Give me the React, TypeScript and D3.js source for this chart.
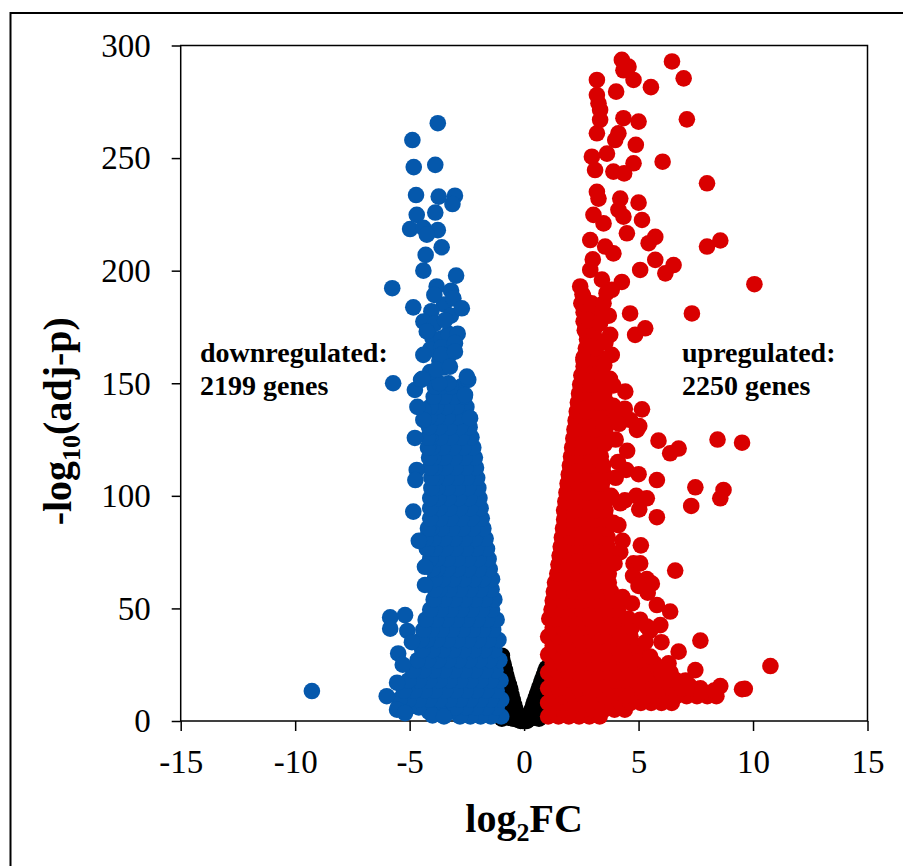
import { useEffect, useRef } from "react";
import * as d3 from "d3";

const xTicks = [-15, -10, -5, 0, 5, 10, 15];
const yTicks = [0, 50, 100, 150, 200, 250, 300];

// not significant genes (|log2FC| < 1), they form the black V at the bottom
const nsPoints: [number, number][] = [
  [-0.97, 29], [-0.95, 27], [-0.89, 25], [-0.83, 22.6], [-0.78, 20.3], [-0.72, 18],
  [-0.66, 16], [-0.6, 14], [-0.55, 11.5], [-0.49, 9.3], [-0.43, 7], [-0.37, 5],
  [-0.31, 2.7], [-0.26, 0.5],
  [-0.97, 21], [-0.97, 14], [-0.97, 7], [-0.97, 1], [-0.87, 17], [-0.87, 10],
  [-0.87, 3], [-0.77, 12], [-0.77, 5], [-0.68, 8], [-0.68, 1.5], [-0.58, 4],
  [-0.47, 1], [-0.15, 0], [-0.05, 0], [0.05, 0], [0.12, 0],
  [0.17, 0.5], [0.23, 2.2], [0.29, 4], [0.34, 5.2], [0.4, 7], [0.45, 8.5], [0.5, 10],
  [0.56, 11.8], [0.62, 13.5], [0.68, 15.2], [0.74, 17], [0.8, 18.6], [0.86, 20.3],
  [0.92, 22], [0.98, 23.5],
  [0.45, 1.5], [0.55, 4.5], [0.65, 7.5], [0.75, 10.5], [0.85, 13.5], [0.95, 16.5],
  [0.65, 1], [0.8, 4], [0.9, 8], [0.97, 11], [0.97, 3],
];

// dense part of the downregulated cloud: [-log10(adj-p), log2FC values]
const downRows: [number, number[]][] = [
  [2, [-1.0, -1.45, -1.9, -2.35, -2.8]],
  [4, [-3.25, -3.7, -4.15]],
  [6, [-1.2, -1.65, -2.1, -2.55, -3.0, -4.6, -5.05, -5.5]],
  [9.5, [-1.0, -1.45, -1.9, -2.35, -2.8, -3.25, -3.7, -4.15, -4.6, -5.05, -5.45]],
  [13.5, [-1.2, -1.65, -2.1, -2.55, -3.0, -3.45, -3.9, -4.35, -4.8, -5.25]],
  [18, [-1.03, -1.45, -1.9, -2.35, -2.8, -3.25, -3.7, -4.15, -4.6, -5.05]],
  [22.5, [-1.25, -1.7, -2.15, -2.6, -3.05, -3.5, -3.95, -4.4, -4.85]],
  [27, [-1.08, -1.5, -1.95, -2.4, -2.85, -3.3, -3.75, -4.2, -4.65]],
  [31.5, [-1.3, -1.75, -2.2, -2.65, -3.1, -3.55, -4.0, -4.45]],
  [36, [-1.12, -1.55, -2.0, -2.45, -2.9, -3.35, -3.8, -4.25, -4.5]],
  [40.5, [-1.35, -1.8, -2.25, -2.7, -3.15, -3.6, -4.05, -4.4]],
  [45, [-1.2, -1.62, -2.05, -2.5, -2.95, -3.4, -3.85, -4.3]],
  [49.5, [-1.4, -1.85, -2.3, -2.75, -3.2, -3.65, -4.1]],
  [54, [-1.3, -1.72, -2.15, -2.6, -3.05, -3.5, -3.95]],
  [58.5, [-1.42, -1.9, -2.35, -2.8, -3.25, -3.7, -3.9]],
  [63, [-1.4, -1.8, -2.2, -2.65, -3.1, -3.55, -3.9]],
  [67.5, [-1.5, -1.98, -2.45, -2.9, -3.35, -3.8, -4.0]],
  [72, [-1.55, -2.0, -2.45, -2.9, -3.35, -3.8, -4.1]],
  [76.5, [-1.62, -2.1, -2.55, -3.0, -3.45, -3.9, -4.25]],
  [81, [-1.68, -2.15, -2.6, -3.05, -3.5, -3.95, -4.3]],
  [85.5, [-1.78, -2.25, -2.7, -3.15, -3.6, -4.05, -4.2]],
  [90, [-1.85, -2.3, -2.75, -3.2, -3.65, -4.1]],
  [94.5, [-1.9, -2.35, -2.8, -3.25, -3.7, -4.1]],
  [99, [-1.95, -2.4, -2.85, -3.3, -3.75, -4.1]],
  [103.5, [-2.0, -2.45, -2.9, -3.35, -3.8, -4.05]],
  [108, [-2.05, -2.5, -2.95, -3.4, -3.85, -4.05]],
  [112.5, [-2.1, -2.55, -3.0, -3.45, -3.9, -4.1]],
  [117, [-2.15, -2.6, -3.05, -3.5, -3.95, -4.15]],
  [121.5, [-2.22, -2.65, -3.1, -3.55, -4.0, -4.2]],
  [126, [-2.3, -2.75, -3.2, -3.65, -4.1, -4.2]],
  [130.5, [-2.38, -2.8, -3.25, -3.7, -4.15]],
  [135, [-2.45, -2.9, -3.35, -3.8, -4.15]],
  [139.5, [-2.52, -2.95, -3.4, -3.85, -4.1]],
  [144, [-2.6, -3.05, -3.5, -3.95]],
  [148.5, [-2.75, -3.2, -3.65, -3.9]],
];

// single downregulated genes outside the dense part: [log2FC, -log10(adj-p)]
const downScatter: [number, number][] = [
  [-9.27, 13.3], [-6.0, 11], [-5.55, 17], [-5.55, 5], [-5.5, 30], [-5.3, 25],
  [-5.85, 46], [-5.2, 47], [-5.85, 41], [-5.1, 40], [-4.9, 35], [-4.33, 68.5],
  [-4.33, 60.4], [-4.6, 80], [-4.84, 93], [-4.69, 111.5], [-4.75, 107], [-4.77, 125.7],
  [-4.4, 138], [-4.4, 133.7], [-4.66, 139.5], [-4.77, 147], [-5.72, 150], [-4.5, 151.5],
  [-2.44, 151.5], [-2.36, 134.5], [-2.58, 144.8], [-5.2, 3.5], [-4.0, 2.5], [-3.5, 2],
  [-4.0, 170], [-3.6, 170], [-3.3, 172], [-3.7, 160], [-4.1, 165], [-3.5, 185],
  [-3.6, 166], [-3.3, 150], [-3.7, 150], [-4.1, 155], [-3.5, 157], [-3.2, 180],
  [-4.05, 182], [-3.3, 162],
  [-3.77, 265.5], [-4.88, 258], [-4.82, 246], [-3.88, 247], [-4.72, 233.6],
  [-3.73, 232.9], [-3.02, 233.3], [-3.13, 229.6], [-4.69, 224.8], [-3.88, 225.8],
  [-4.98, 218.5], [-4.4, 219], [-3.77, 218], [-4.25, 216], [-3.6, 210.4], [-4.3, 207],
  [-4.4, 200], [-2.97, 197.8], [-5.76, 192.2], [-3.82, 193], [-3.19, 191.1],
  [-3.92, 189.2], [-3.09, 187.7], [-4.84, 183.7], [-2.72, 183.3], [-4.4, 177.4],
  [-3.89, 176.6], [-3.45, 178], [-2.9, 172], [-4.25, 173], [-3.02, 167.8],
  [-4.4, 162.6], [-3.6, 162.6], [-3.02, 164], [-3.82, 156], [-3.24, 157.4],
  [-2.5, 153], [-4.45, 152],
];

// dense part of the upregulated cloud: [-log10(adj-p), log2FC values]
const upRows: [number, number[]][] = [
  [2, [1.05, 1.5, 1.95, 2.4, 2.85, 3.3]],
  [5, [1.25, 1.7, 2.15, 2.6, 3.05, 3.5, 3.95, 4.4]],
  [8, [1.05, 1.5, 1.95, 2.4, 2.85, 3.3, 3.75, 4.2, 4.65, 5.1, 5.55, 6.0, 6.45]],
  [11, [1.25, 1.7, 2.15, 2.6, 3.05, 3.5, 3.95, 4.4, 4.85, 5.3, 5.75, 6.2, 6.65, 7.1, 7.55, 8.0, 8.4]],
  [14.5, [1.05, 1.5, 1.95, 2.4, 2.85, 3.3, 3.75, 4.2, 4.65, 5.1, 5.55, 6.0, 6.45, 6.9, 7.35, 7.7]],
  [18, [1.25, 1.7, 2.15, 2.6, 3.05, 3.5, 3.95, 4.4, 4.85, 5.3, 5.75, 6.2, 6.65, 7.05]],
  [21.5, [1.05, 1.5, 1.95, 2.4, 2.85, 3.3, 3.75, 4.2, 4.65, 5.1, 5.55, 6.0, 6.4]],
  [25.5, [1.25, 1.7, 2.15, 2.6, 3.05, 3.5, 3.95, 4.4, 4.85, 5.3, 5.7]],
  [29.5, [1.05, 1.5, 1.95, 2.4, 2.85, 3.3, 3.75, 4.2, 4.65, 5.1]],
  [33.5, [1.25, 1.7, 2.15, 2.6, 3.05, 3.5, 3.95, 4.4, 4.85]],
  [37.5, [1.05, 1.5, 1.95, 2.4, 2.85, 3.3, 3.75, 4.2, 4.65]],
  [41.5, [1.25, 1.7, 2.15, 2.6, 3.05, 3.5, 3.95, 4.4, 4.7]],
  [45.5, [1.1, 1.55, 2.0, 2.45, 2.9, 3.35, 3.8, 4.25, 4.55]],
  [49.5, [1.2, 1.65, 2.1, 2.55, 3.0, 3.45, 3.9, 4.1]],
  [53.5, [1.25, 1.7, 2.15, 2.6, 3.05, 3.5, 3.9]],
  [57.5, [1.3, 1.75, 2.2, 2.65, 3.1, 3.55, 3.8]],
  [61.5, [1.35, 1.8, 2.25, 2.7, 3.15, 3.6, 3.7]],
  [65.5, [1.45, 1.9, 2.35, 2.8, 3.25, 3.7]],
  [69.5, [1.5, 1.95, 2.4, 2.85, 3.3, 3.7]],
  [73.5, [1.55, 2.0, 2.45, 2.9, 3.35, 3.65]],
  [77.5, [1.6, 2.05, 2.5, 2.95, 3.4, 3.65]],
  [81.5, [1.65, 2.1, 2.55, 3.0, 3.45, 3.65]],
  [85.5, [1.7, 2.15, 2.6, 3.05, 3.5, 3.6]],
  [89.5, [1.75, 2.2, 2.65, 3.1, 3.55, 3.6]],
  [93.5, [1.75, 2.2, 2.65, 3.1, 3.55]],
  [97.5, [1.8, 2.25, 2.7, 3.15, 3.55]],
  [101.5, [1.85, 2.3, 2.75, 3.2, 3.45]],
  [105.5, [1.9, 2.35, 2.8, 3.25, 3.4]],
  [109.5, [1.95, 2.4, 2.85, 3.3, 3.5]],
  [113.5, [2.0, 2.45, 2.9, 3.35, 3.45]],
  [117.5, [2.05, 2.5, 2.95, 3.35]],
  [121.5, [2.1, 2.55, 3.0, 3.3]],
  [125.5, [2.15, 2.6, 3.05, 3.5]],
  [129.5, [2.2, 2.65, 3.1, 3.55]],
  [133.5, [2.25, 2.7, 3.15, 3.6]],
  [137.5, [2.3, 2.75, 3.2, 3.6]],
  [141.5, [2.35, 2.8, 3.25, 3.6]],
  [145.5, [2.4, 2.85, 3.3, 3.5]],
  [149.5, [2.45, 2.9, 3.35]],
  [153.5, [2.5, 2.95, 3.4]],
  [157.5, [2.6, 3.0, 3.35]],
  [161.5, [2.6, 3.0, 3.3]],
  [165.5, [2.7, 3.1]],
  [169.5, [2.75, 3.15]],
  [173.5, [2.65, 3.05]],
  [177.5, [2.6, 3.0]],
  [181.5, [2.6, 3.1]],
  [185.5, [2.5, 2.95]],
  [189.5, [2.55]],
];

// single upregulated genes outside the dense part: [log2FC, -log10(adj-p)]
const upScatter: [number, number][] = [
  [4.27, 293.6], [4.56, 290.6], [4.34, 289], [4.78, 284.7], [6.46, 292.9], [6.97, 285.4],
  [3.18, 284.7], [4.02, 279.5], [5.54, 281.5], [3.18, 278], [3.25, 274.3], [3.32, 271.4],
  [7.11, 267.2], [3.32, 267], [4.34, 267.7], [5.0, 266.2], [3.18, 261], [4.12, 261],
  [3.98, 258], [4.88, 255.9], [2.96, 250.6], [3.62, 252], [4.78, 247.7], [6.05, 248.4],
  [3.1, 244.7], [3.9, 244], [4.37, 243.2], [7.99, 238.8], [3.18, 235], [3.25, 232],
  [4.2, 232], [5.0, 230.2], [4.12, 227], [3.03, 224.8], [5.15, 222.5], [4.34, 224],
  [3.47, 221], [2.89, 213.6], [4.49, 216.6], [5.73, 215], [5.44, 212.2], [7.99, 210.7],
  [8.57, 213.4], [3.54, 210.7], [5.73, 204.8], [3.9, 207.7], [6.53, 202.5], [6.17, 198.8],
  [5.07, 200.3], [2.89, 200.3], [4.27, 195], [2.45, 193], [10.06, 194], [3.83, 191.5],
  [2.59, 188.5], [3.47, 185.5], [4.63, 181], [7.33, 181], [2.81, 178], [3.32, 176.6],
  [3.76, 171.5], [4.85, 171.5], [5.29, 174.4], [2.96, 166.3], [3.83, 162.6], [2.59, 160.3],
  [3.4, 196], [3.0, 205], [3.6, 190], [3.7, 180], [3.55, 168], [3.5, 158], [3.75, 152],
  [4.42, 146.3], [3.9, 149], [5.15, 138.4], [4.12, 136.7], [3.47, 132.2], [4.63, 133.7],
  [4.93, 129.3], [5.87, 124.5], [6.38, 118.9], [6.75, 121], [8.45, 125], [9.52, 123.6],
  [4.46, 111.5], [5.0, 109.6], [5.8, 107], [7.48, 103.8], [8.71, 102.6], [8.57, 98.9],
  [7.3, 95.5], [4.2, 96.7], [5.36, 98.9], [5.03, 94], [5.8, 90.5], [4.12, 87],
  [6.6, 66.8], [4.78, 70], [5.07, 70], [5.36, 63], [5.58, 61], [4.71, 52.2], [5.8, 51.5],
  [6.38, 48.6], [5.07, 45], [5.36, 42], [5.95, 42.6], [7.7, 35.7], [6.75, 30.8],
  [6.31, 25.6], [7.48, 22.6], [10.76, 24.4], [6.09, 22.6], [5.51, 28.6], [7.19, 16],
  [8.57, 15.5], [9.52, 14.1], [9.64, 14.3], [7.77, 13], [8.3, 13.5],
  [4.0, 108], [4.4, 98], [4.9, 100], [4.76, 64.5], [4.3, 80], [4.5, 120], [4.0, 125],
  [4.2, 75], [3.9, 140], [4.3, 55], [5.5, 40], [5.3, 35], [5.2, 20], [6.0, 35],
  [4.1, 115], [3.8, 100], [3.9, 88], [3.95, 70], [5.4, 57], [5.0, 60], [5.1, 78],
  [3.52, 123], [4.15, 132], [4.4, 138.7], [5.03, 131],
];

const nsColor = "#000000";
const downColor = "#0558AC";
const upColor = "#D90000";

export default function App() {
  const svgRef = useRef<SVGSVGElement>(null);

  useEffect(() => {
    const svg = d3.select(svgRef.current);
    svg.selectAll("*").remove();

    const x = d3.scaleLinear().domain([-15, 15]).range([180.7, 867.5]);
    const y = d3.scaleLinear().domain([0, 300]).range([721, 45.5]);
    const font = "'Liberation Serif', 'Times New Roman', serif";

    // outer frame
    svg.append("rect")
      .attr("x", 10.5).attr("y", 13)
      .attr("width", 910).attr("height", 880)
      .attr("fill", "none").attr("stroke", "#000").attr("stroke-width", 2);

    // plot area box
    svg.append("rect")
      .attr("x", x(-15)).attr("y", y(300))
      .attr("width", x(15) - x(-15)).attr("height", y(0) - y(300))
      .attr("fill", "none").attr("stroke", "#000").attr("stroke-width", 1.5);

    const yAxis = svg.append("g")
      .attr("transform", `translate(${x(-15)},0)`)
      .call(d3.axisLeft(y).tickValues(yTicks).tickSize(9).tickPadding(21).tickFormat(d => String(d)));
    yAxis.select(".domain").remove();
    yAxis.selectAll("line").attr("stroke", "#000").attr("stroke-width", 1.5);
    yAxis.selectAll("text")
      .attr("font-family", font).attr("font-size", 33).attr("fill", "#000")
      .attr("dy", "0.33em");

    const xAxis = svg.append("g")
      .attr("transform", `translate(0,${y(0)})`)
      .call(d3.axisBottom(x).tickValues(xTicks).tickSize(10).tickPadding(0).tickFormat(d => String(d)));
    xAxis.select(".domain").remove();
    xAxis.selectAll("line").attr("stroke", "#000").attr("stroke-width", 1.5);
    xAxis.selectAll("text")
      .attr("font-family", font).attr("font-size", 33).attr("fill", "#000")
      .attr("y", 52).attr("dy", 0);

    const down = downRows.flatMap(([p, fcs]) => fcs.map(fc => [fc, p] as [number, number])).concat(downScatter);
    const up = upRows.flatMap(([p, fcs]) => fcs.map(fc => [fc, p] as [number, number])).concat(upScatter);

    const groups: [string, [number, number][], string][] = [
      ["ns", nsPoints, nsColor],
      ["down", down, downColor],
      ["up", up, upColor],
    ];
    groups.forEach(([name, pts, color]) => {
      svg.append("g").attr("class", name)
        .selectAll("circle")
        .data(pts)
        .join("circle")
        .attr("cx", d => x(d[0]))
        .attr("cy", d => y(d[1]))
        .attr("r", 8.3)
        .attr("fill", color);
    });

    // axis titles
    const xt = svg.append("text")
      .attr("x", (x(-15) + x(15)) / 2).attr("y", 832)
      .attr("text-anchor", "middle")
      .attr("font-family", font).attr("font-size", 40).attr("font-weight", "bold");
    xt.append("tspan").text("log");
    xt.append("tspan").attr("font-size", 26).attr("dy", 9).text("2");
    xt.append("tspan").attr("dy", -9).text("FC");

    const yt = svg.append("text")
      .attr("transform", `translate(71,${(y(0) + y(300)) / 2 + 38}) rotate(-90)`)
      .attr("text-anchor", "middle")
      .attr("font-family", font).attr("font-size", 40).attr("font-weight", "bold");
    yt.append("tspan").text("-log");
    yt.append("tspan").attr("font-size", 26).attr("dy", 9).text("10");
    yt.append("tspan").attr("dy", -9).text("(adj-p)");

    // annotations
    const notes: [number, string[]][] = [
      [200, ["downregulated:", "2199 genes"]],
      [682, ["upregulated:", "2250 genes"]],
    ];
    notes.forEach(([nx, lines]) => {
      lines.forEach((line, i) => {
        svg.append("text")
          .attr("x", nx).attr("y", 362 + i * 33)
          .attr("font-family", font).attr("font-size", 28).attr("font-weight", "bold")
          .text(line);
      });
    });
  }, []);

  return (
    <svg
      ref={svgRef}
      width={903}
      height={866}
      style={{ position: "absolute", left: 0, top: 0, background: "#fff" }}
    />
  );
}
